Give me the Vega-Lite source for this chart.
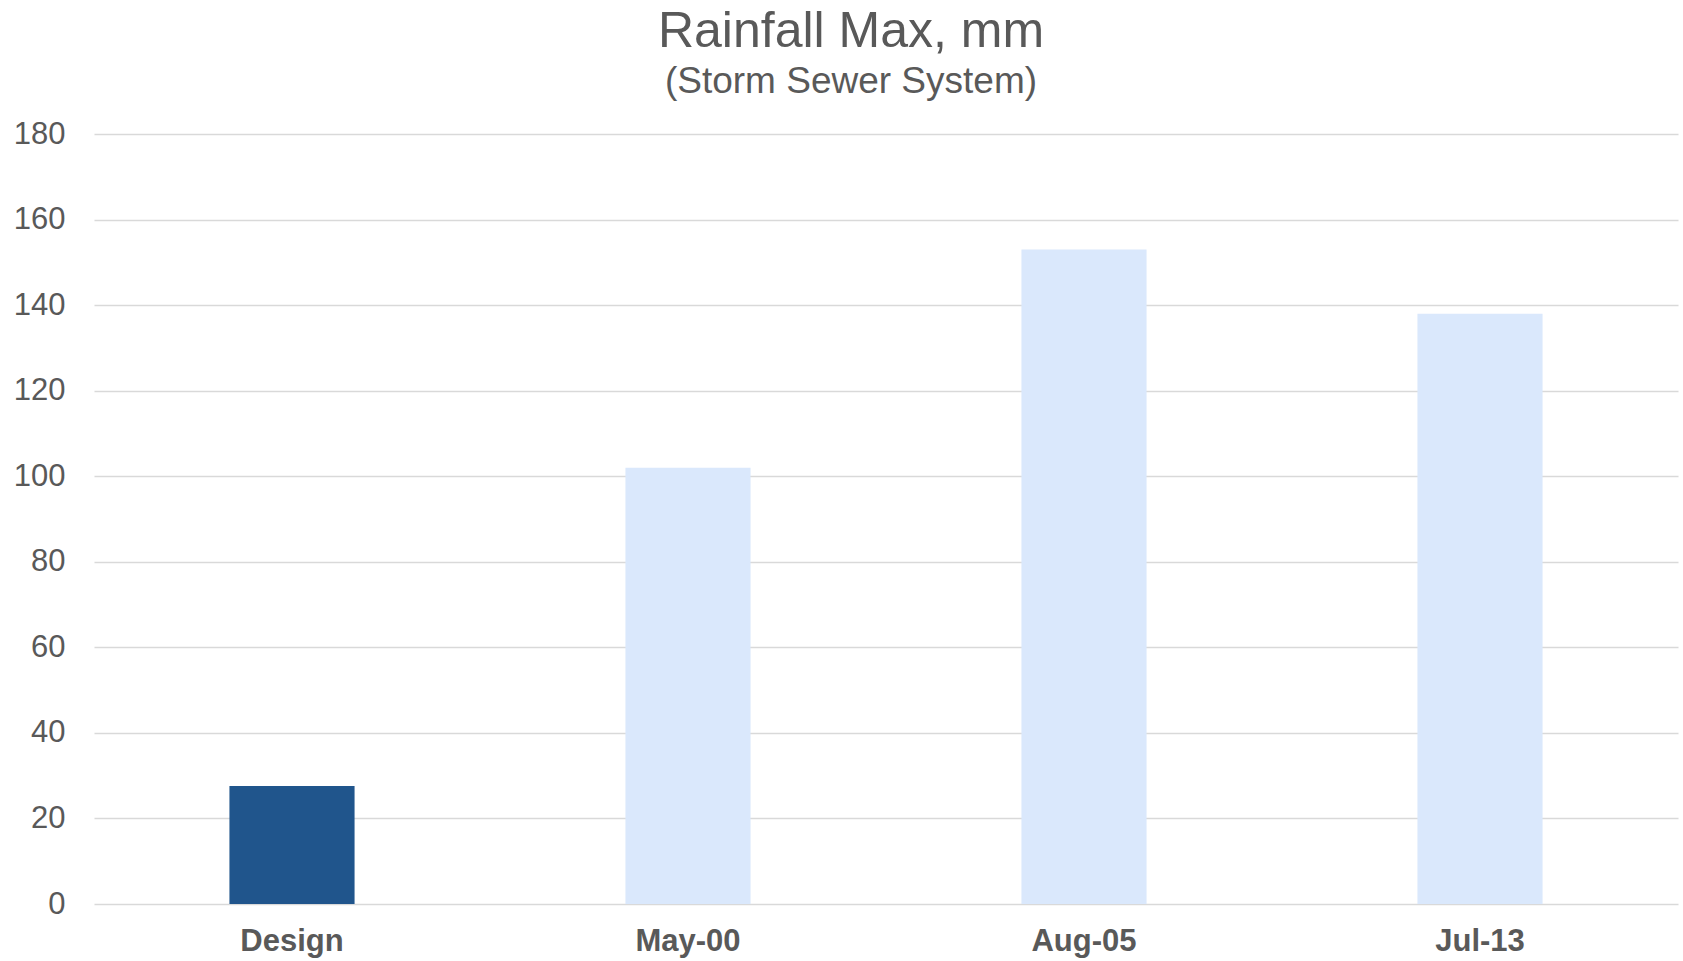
{
  "$schema": "https://vega.github.io/schema/vega-lite/v6.json",
  "autosize": "none",
  "width": 1584,
  "height": 770,
  "padding": {"left": 94, "top": 134, "right": 5, "bottom": 57},
  "background": "white",
  "title": {
    "text": "Rainfall Max, mm",
    "subtitle": "(Storm Sewer System)",
    "anchor": "middle",
    "dx": -35,
    "offset": 18,
    "font": "Liberation Sans",
    "fontSize": 50,
    "fontWeight": "normal",
    "color": "#595959",
    "subtitleFont": "Liberation Sans",
    "subtitleFontSize": 37,
    "subtitleColor": "#595959",
    "subtitlePadding": 7
  },
  "data": {
    "values": [
      {"period": "Design", "rainfall": 27.6, "kind": "design"},
      {"period": "May-00", "rainfall": 102, "kind": "event"},
      {"period": "Aug-05", "rainfall": 153, "kind": "event"},
      {"period": "Jul-13", "rainfall": 138, "kind": "event"}
    ]
  },
  "mark": {"type": "bar"},
  "encoding": {
    "x": {
      "field": "period",
      "type": "nominal",
      "sort": null,
      "scale": {"paddingInner": 0.684, "paddingOuter": 0.342},
      "axis": {
        "title": null,
        "domain": false,
        "ticks": false,
        "tickSize": 0,
        "labelAngle": 0,
        "labelFont": "Liberation Sans",
        "labelFontSize": 31,
        "labelFontWeight": "bold",
        "labelColor": "#595959",
        "labelPadding": 22
      }
    },
    "y": {
      "field": "rainfall",
      "type": "quantitative",
      "scale": {"domain": [0, 180], "nice": false},
      "axis": {
        "title": null,
        "values": [0, 20, 40, 60, 80, 100, 120, 140, 160, 180],
        "domain": false,
        "ticks": false,
        "tickSize": 0,
        "labelFont": "Liberation Sans",
        "labelFontSize": 31,
        "labelColor": "#595959",
        "labelPadding": 29,
        "grid": true,
        "gridColor": "#d9d9d9",
        "gridWidth": 1.5
      }
    },
    "color": {
      "field": "kind",
      "type": "nominal",
      "scale": {"domain": ["design", "event"], "range": ["#20558C", "#DAE8FC"]},
      "legend": null
    }
  },
  "config": {"view": {"stroke": null}}
}
